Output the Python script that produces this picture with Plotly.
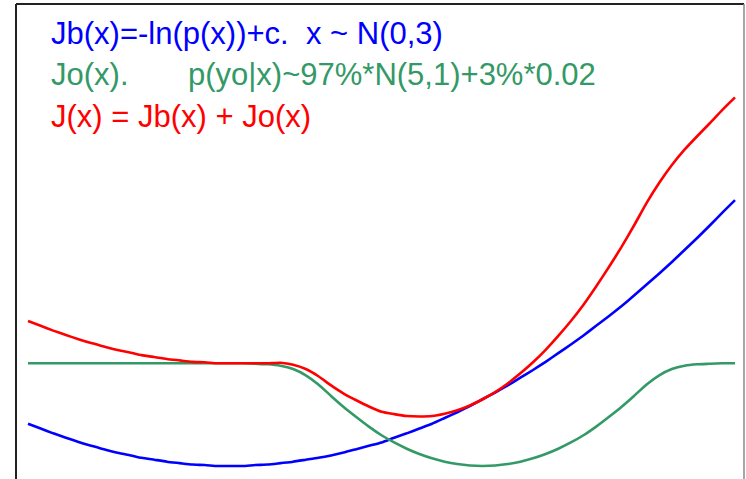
import plotly.graph_objects as go

# state grid (quarter steps)
x_vals = [-4.0, -3.75, -3.5, -3.25, -3.0, -2.75, -2.5, -2.25, -2.0, -1.75, -1.5, -1.25,
          -1.0, -0.75, -0.5, -0.25, 0.0, 0.25, 0.5, 0.75, 1.0, 1.25, 1.5, 1.75,
          2.0, 2.25, 2.5, 2.75, 3.0, 3.25, 3.5, 3.75, 4.0, 4.25, 4.5, 4.75,
          5.0, 5.25, 5.5, 5.75, 6.0, 6.25, 6.5, 6.75, 7.0, 7.25, 7.5, 7.75,
          8.0, 8.25, 8.5, 8.75, 9.0, 9.25, 9.5, 9.75, 10.0]

# background cost Jb(x)
jb_vals = [0.88, 0.78, 0.68, 0.59, 0.50, 0.42, 0.35, 0.28, 0.23, 0.17, 0.13, 0.09,
           0.06, 0.03, 0.02, 0.00, 0.00, 0.00, 0.02, 0.03, 0.06, 0.09, 0.13, 0.17,
           0.22, 0.28, 0.35, 0.42, 0.49, 0.59, 0.68, 0.78, 0.88, 1.00, 1.12, 1.25,
           1.39, 1.53, 1.68, 1.84, 2.00, 2.17, 2.35, 2.53, 2.72, 2.92, 3.12, 3.33,
           3.55, 3.78, 4.01, 4.25, 4.50, 4.75, 5.01, 5.28, 5.54]

# observation cost Jo(x)
jo_vals = [2.14, 2.14, 2.14, 2.14, 2.14, 2.14, 2.14, 2.14, 2.14, 2.14, 2.14, 2.14,
           2.14, 2.14, 2.14, 2.14, 2.14, 2.14, 2.13, 2.12, 2.09, 2.02, 1.89, 1.70,
           1.46, 1.23, 1.02, 0.82, 0.64, 0.49, 0.36, 0.25, 0.16, 0.09, 0.04, 0.01,
           0.00, 0.01, 0.04, 0.09, 0.16, 0.25, 0.36, 0.49, 0.64, 0.82, 1.02, 1.23,
           1.46, 1.70, 1.89, 2.02, 2.09, 2.12, 2.13, 2.14, 2.14]

# total cost J(x)
j_vals = [3.02, 2.92, 2.82, 2.73, 2.64, 2.56, 2.49, 2.42, 2.37, 2.31, 2.27, 2.23,
          2.20, 2.17, 2.16, 2.14, 2.14, 2.14, 2.14, 2.14, 2.15, 2.11, 2.02, 1.87,
          1.68, 1.51, 1.37, 1.24, 1.13, 1.08, 1.04, 1.03, 1.04, 1.09, 1.16, 1.26,
          1.39, 1.54, 1.72, 1.93, 2.16, 2.42, 2.71, 3.02, 3.36, 3.74, 4.14, 4.56,
          5.01, 5.48, 5.90, 6.27, 6.59, 6.87, 7.14, 7.42, 7.68]

labels = [
    ("Jb(x)=-ln(p(x))+c.  x ~ N(0,3)", 49, 33, "#0000FF"),
    ("Jo(x).", 49, 74.5, "#339966"),
    ("p(yo|x)~97%*N(5,1)+3%*0.02", 186, 74.5, "#339966"),
    ("J(x) = Jb(x) + Jo(x)", 49, 116, "#FF0000"),
]

W, H = 746, 479
ML, MR, MT, MB = 16, 2, 4, 0

fig = go.Figure()
for ys, col in ((jb_vals, "#0000FF"), (jo_vals, "#339966"), (j_vals, "#FF0000")):
    fig.add_trace(go.Scatter(x=x_vals, y=ys, mode="lines",
                             line=dict(color=col, width=2.6, shape="spline", smoothing=0.5)))

for text, px, py, col in labels:
    fig.add_annotation(
        text=text, xref="paper", yref="paper",
        x=(px - ML) / (W - ML - MR), y=1 - (py - MT) / (H - MT - MB),
        xanchor="left", yanchor="middle", showarrow=False,
        font=dict(family="Liberation Sans, Arial, sans-serif", size=31, color=col),
    )

# frame: dark left and top edges, grey right edge
fig.add_shape(type="line", xref="paper", yref="paper", x0=0, x1=0, y0=0, y1=1,
              line=dict(color="#222222", width=2))
fig.add_shape(type="line", xref="paper", yref="paper", x0=0, x1=1, y0=1, y1=1,
              line=dict(color="#222222", width=2))
fig.add_shape(type="line", xref="paper", yref="paper", x0=1, x1=1, y0=0, y1=1,
              line=dict(color="#888888", width=1.5))

fig.update_layout(
    width=W, height=H,
    margin=dict(l=ML, r=MR, t=MT, b=MB),
    paper_bgcolor="white", plot_bgcolor="white",
    showlegend=False,
    xaxis=dict(range=[-4.238, 10.178], visible=False, fixedrange=True),
    yaxis=dict(range=[-0.271, 9.625], visible=False, fixedrange=True),
)

fig.write_html("out.html")
